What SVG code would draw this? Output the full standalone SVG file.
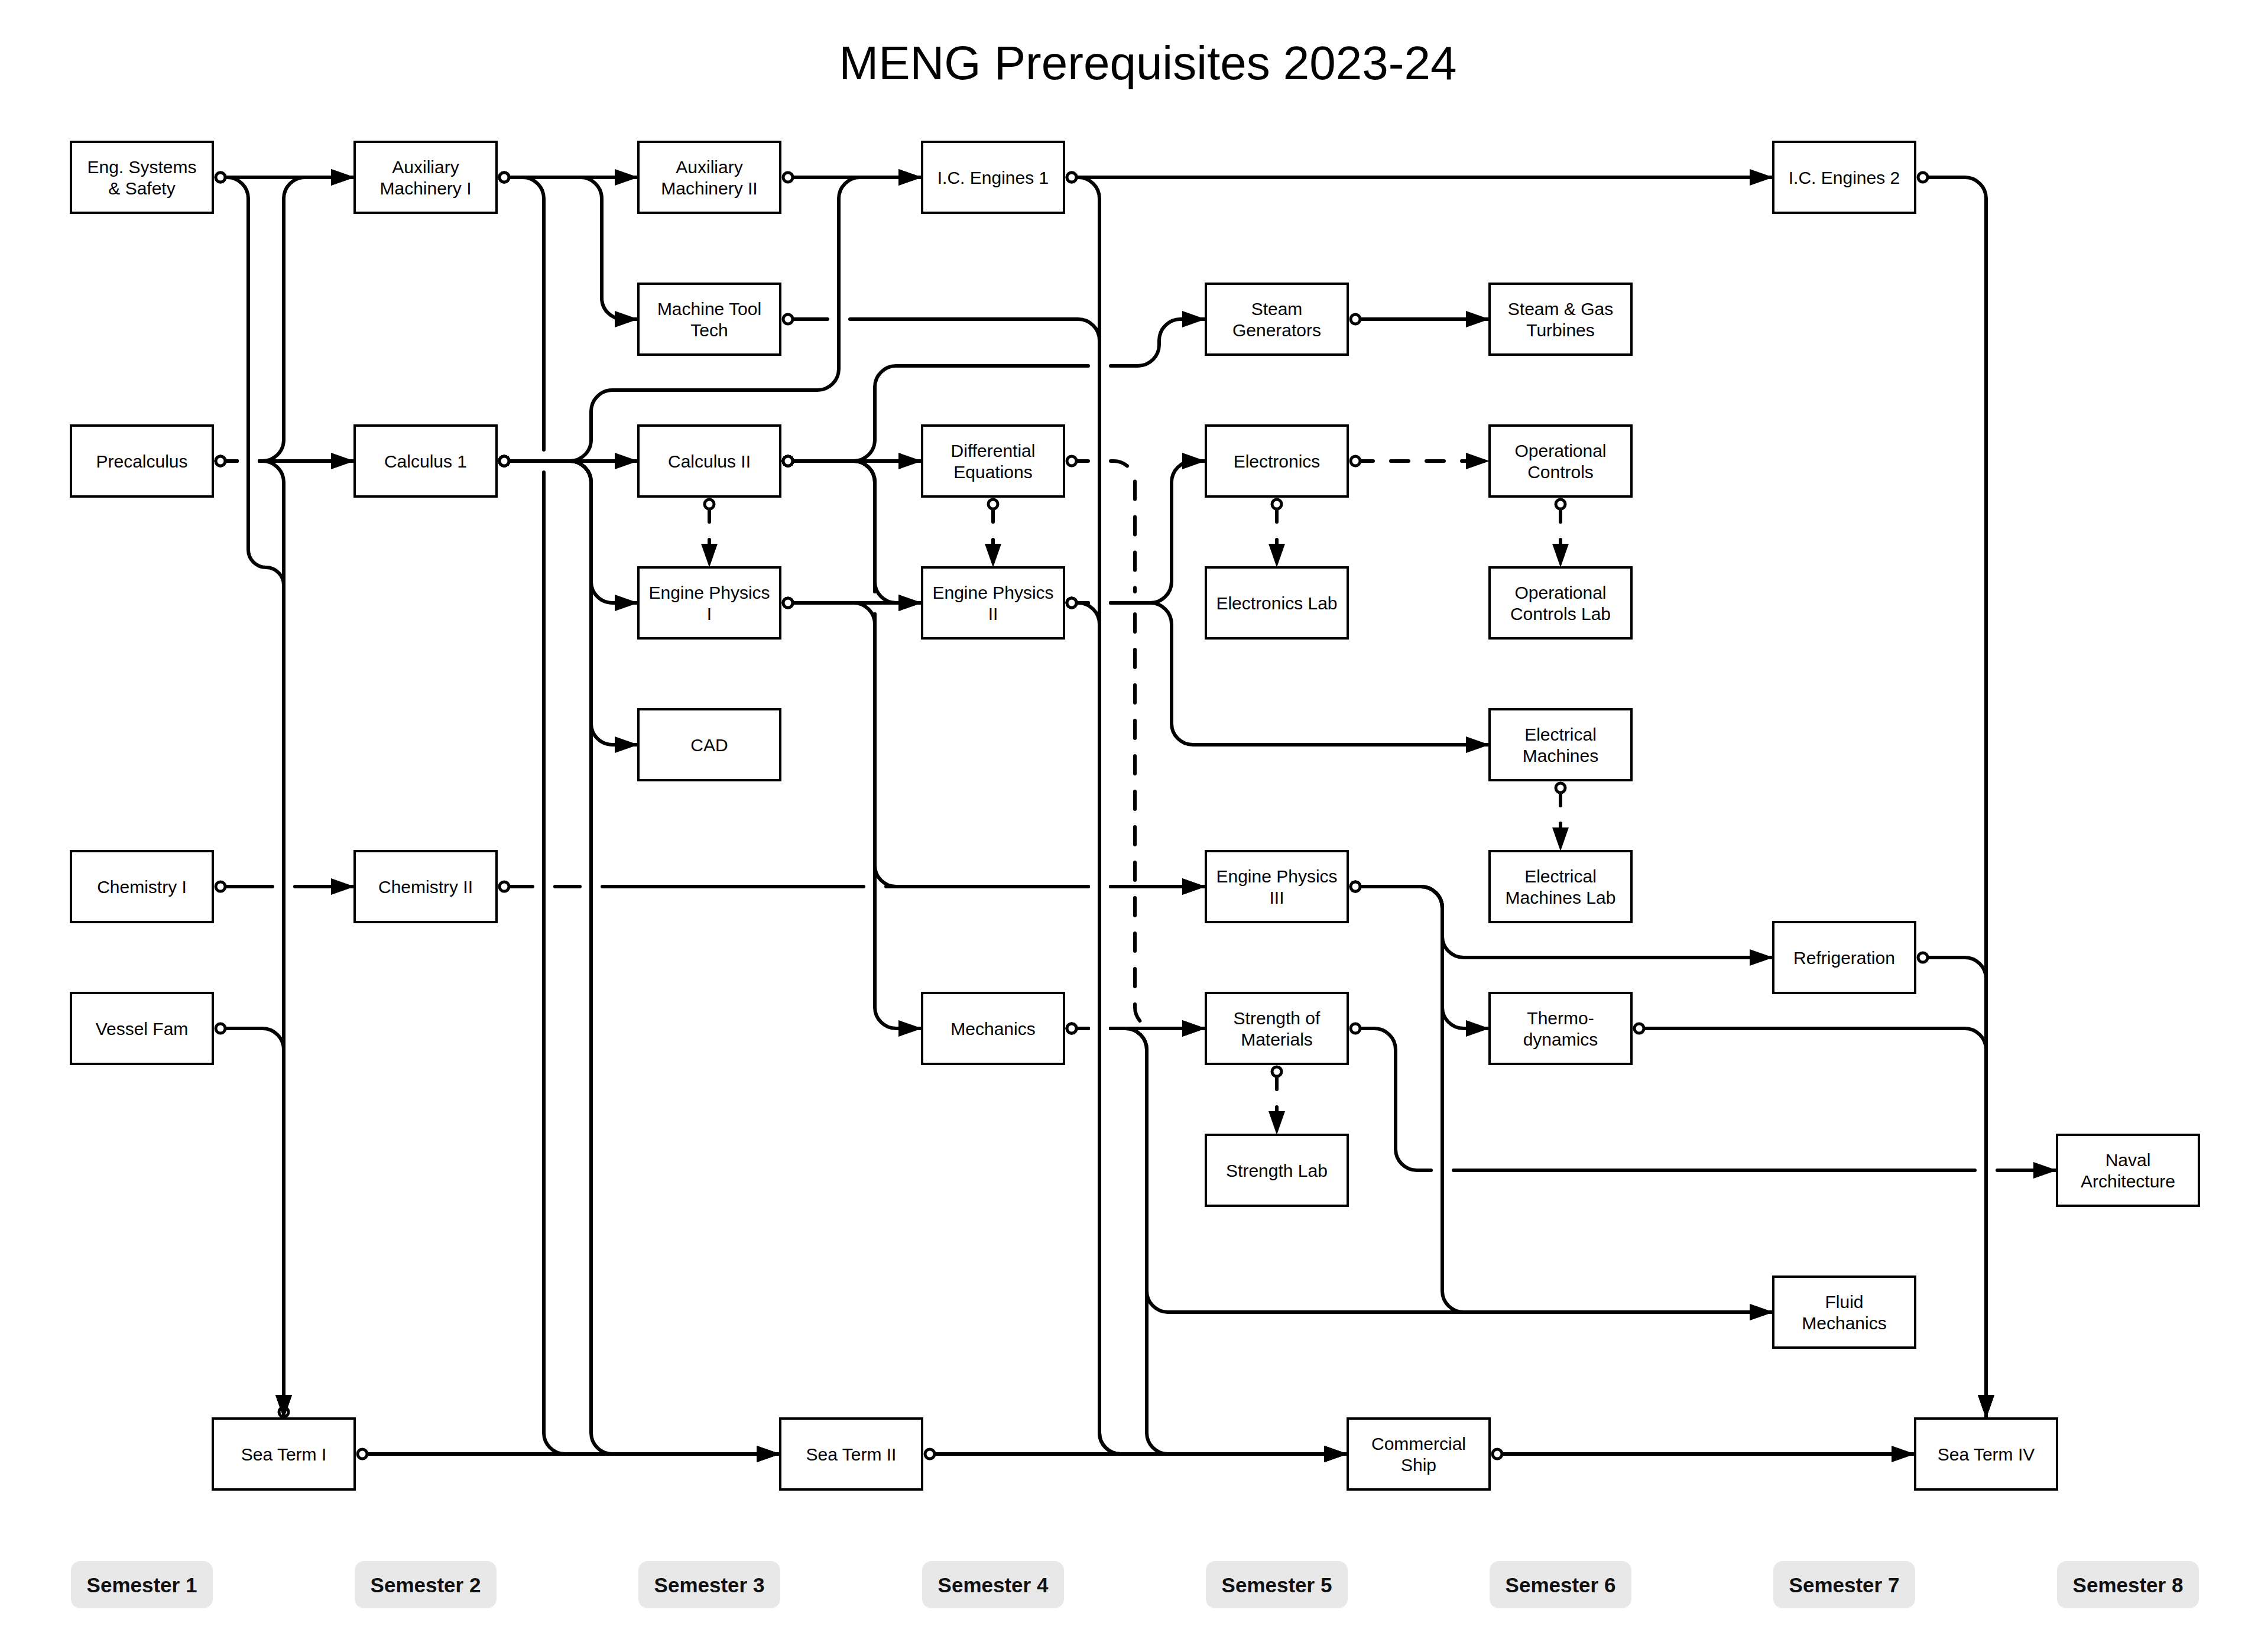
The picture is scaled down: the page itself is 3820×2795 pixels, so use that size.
<svg xmlns="http://www.w3.org/2000/svg" width="3820" height="2795" viewBox="0 0 3820 2795">
<style>
.box{fill:#fff;stroke:#000;stroke-width:4}
.lbl{font-family:"Liberation Sans",Arial,Helvetica,sans-serif;font-size:30px;text-anchor:middle;fill:#000}
.e{fill:none;stroke:#000;stroke-width:6;stroke-linecap:round;stroke-linejoin:round}
.s{marker-start:url(#circ)}
.a{marker-end:url(#arr)}
.d{stroke-dasharray:30 30}
.sem{fill:#e8e8e8}
.semt{font-family:"Liberation Sans",Arial,Helvetica,sans-serif;font-size:35px;font-weight:bold;text-anchor:middle;fill:#111}
.title{font-family:"Liberation Sans",Arial,Helvetica,sans-serif;font-size:80px;text-anchor:middle;fill:#000}
</style>
<defs>
<marker id="arr" markerUnits="userSpaceOnUse" markerWidth="40" markerHeight="28" refX="40" refY="14" viewBox="0 0 40 28" orient="auto"><path d="M0,0 L40,14 L0,28 z" fill="#000"/></marker>
<marker id="circ" markerUnits="userSpaceOnUse" markerWidth="30" markerHeight="30" refX="15" refY="15" viewBox="0 0 30 30" overflow="visible"><circle cx="15" cy="15" r="8" fill="#fff" stroke="#000" stroke-width="5"/></marker>
</defs>
<rect x="0" y="0" width="3820" height="2795" fill="#fff"/>
<text class="title" x="1942" y="134">MENG Prerequisites 2023-24</text>

<g id="connectors">
<circle cx="480" cy="2389" r="8" fill="#fff" stroke="#000" stroke-width="5"/>
<!-- Semester 1 -->
<path class="e s a" d="M373,300 H600"/>
<path class="e s a" d="M373,300 H384 A36,36 0 0 1 420,336 V930 A30,30 0 0 0 450,960 A30,30 0 0 1 480,990 V2400"/>
<path class="e s a" d="M373,780 H401 M439,780 H444 A36,36 0 0 0 480,744 V336 A36,36 0 0 1 516,300 H600"/>
<path class="e s a" d="M373,780 H401 M439,780 H600"/>
<path class="e s a" d="M373,780 H401 M439,780 H444 A36,36 0 0 1 480,816 V2400"/>
<path class="e s a" d="M373,1740 H444 A36,36 0 0 1 480,1776 V2400"/>
<path class="e s a" d="M373,1500 H461 M499,1500 H600"/>
<!-- Semester 2 -->
<path class="e s a" d="M853,300 H1080"/>
<path class="e s a" d="M853,300 H884 A36,36 0 0 1 920,336 V761 M920,799 V2424 A36,36 0 0 0 956,2460 H1320"/>
<path class="e s a" d="M853,300 H982 A36,36 0 0 1 1018,336 V504 A36,36 0 0 0 1054,540 H1080"/>
<path class="e s a" d="M853,780 H1080"/>
<path class="e s a" d="M853,780 H964 A36,36 0 0 0 1000,744 V696 A36,36 0 0 1 1036,660 H1383 A36,36 0 0 0 1419,624 V336 A36,36 0 0 1 1455,300 H1560"/>
<path class="e s a" d="M853,780 H964 A36,36 0 0 1 1000,816 V984 A36,36 0 0 0 1036,1020 H1080"/>
<path class="e s a" d="M853,780 H964 A36,36 0 0 1 1000,816 V1224 A36,36 0 0 0 1036,1260 H1080"/>
<path class="e s a" d="M853,780 H964 A36,36 0 0 1 1000,816 V2424 A36,36 0 0 0 1036,2460 H1320"/>
<path class="e s a" d="M853,1500 H901 M939,1500 H981 M1019,1500 H1461 M1499,1500 H1841 M1879,1500 H2040"/>
<path class="e s a" d="M613,2460 H1320"/>
<!-- Semester 3 -->
<path class="e s a" d="M1333,300 H1560"/>
<path class="e s a" d="M1333,540 H1400 M1438,540 H1824 A36,36 0 0 1 1860,576 V2424 A36,36 0 0 0 1896,2460 H2280"/>
<path class="e s a" d="M1333,780 H1560"/>
<path class="e s a" d="M1333,780 H1444 A36,36 0 0 0 1480,744 V655 A36,36 0 0 1 1516,619 H1841 M1879,619 H1925 A36,36 0 0 0 1961,583 V576 A36,36 0 0 1 1997,540 H2040"/>
<path class="e s a" d="M1333,780 H1444 A36,36 0 0 1 1480,816 V984 A36,36 0 0 0 1516,1020 H1560"/>
<path class="e s a" d="M1333,780 H1444 A36,36 0 0 1 1480,816 V1001 M1480,1039 V1704 A36,36 0 0 0 1516,1740 H1560"/>
<path class="e s a" d="M1333,780 H1444 A36,36 0 0 1 1480,816 V1001 M1480,1039 V1464 A36,36 0 0 0 1516,1500 H1841 M1879,1500 H2040"/>
<path class="e s a" d="M1333,1020 H1560"/>
<path class="e s" d="M1333,1020 H1444 A36,36 0 0 1 1480,1056 V1070"/>
<path class="e s a d" d="M1200,853 V960"/>
<path class="e s a" d="M1573,2460 H2280"/>
<!-- Semester 4 -->
<path class="e s a" d="M1813,300 H3000"/>
<path class="e s a" d="M1813,300 H1824 A36,36 0 0 1 1860,336 V2424 A36,36 0 0 0 1896,2460 H2280"/>
<path class="e s a d" d="M1813,780 H1841 M1879,780 H1884 A36,36 0 0 1 1920,816 V1001 M1920,1039 V1704 A36,36 0 0 0 1956,1740 H2040"/>
<path class="e s a d" d="M1680,853 V960"/>
<path class="e s" d="M1813,1020 H1824 A36,36 0 0 1 1860,1056 V1080"/>
<path class="e s a" d="M1813,1020 H1841 M1879,1020 H1946 A36,36 0 0 0 1982,984 V816 A36,36 0 0 1 2018,780 H2040"/>
<path class="e s a" d="M1813,1020 H1841 M1879,1020 H1946 A36,36 0 0 1 1982,1056 V1224 A36,36 0 0 0 2018,1260 H2520"/>
<path class="e s a" d="M1813,1740 H1841 M1879,1740 H2040"/>
<path class="e s a" d="M1813,1740 H1841 M1879,1740 H1904 A36,36 0 0 1 1940,1776 V2424 A36,36 0 0 0 1976,2460 H2280"/>
<path class="e s a" d="M1813,1740 H1841 M1879,1740 H1904 A36,36 0 0 1 1940,1776 V2184 A36,36 0 0 0 1976,2220 H3000"/>
<!-- Semester 5 -->
<path class="e s a" d="M2293,540 H2520"/>
<path class="e s a d" d="M2293,780 H2520"/>
<path class="e s a d" d="M2160,853 V960"/>
<path class="e s a" d="M2293,1500 H2404 A36,36 0 0 1 2440,1536 V1584 A36,36 0 0 0 2476,1620 H3000"/>
<path class="e s a" d="M2293,1500 H2404 A36,36 0 0 1 2440,1536 V1704 A36,36 0 0 0 2476,1740 H2520"/>
<path class="e s a" d="M2293,1500 H2404 A36,36 0 0 1 2440,1536 V2184 A36,36 0 0 0 2476,2220 H3000"/>
<path class="e s a" d="M2293,1740 H2325 A36,36 0 0 1 2361,1776 V1944 A36,36 0 0 0 2397,1980 H2421 M2459,1980 H3341 M3379,1980 H3480"/>
<path class="e s a d" d="M2160,1813 V1920"/>
<path class="e s a" d="M2533,2460 H3240"/>
<!-- Semester 6 -->
<path class="e s a d" d="M2640,853 V960"/>
<path class="e s a d" d="M2640,1333 V1440"/>
<path class="e s a" d="M2773,1740 H3324 A36,36 0 0 1 3360,1776 V2400"/>
<!-- Semester 7 -->
<path class="e s a" d="M3253,300 H3324 A36,36 0 0 1 3360,336 V2400"/>
<path class="e s a" d="M3253,1620 H3324 A36,36 0 0 1 3360,1656 V2400"/>
</g>

<g id="eng"><rect class="box" x="120" y="240" width="240" height="120"/><text class="lbl" x="240" y="292.5">Eng. Systems</text><text class="lbl" x="240" y="328.5">&amp; Safety</text></g>
<g id="precalc"><rect class="box" x="120" y="720" width="240" height="120"/><text class="lbl" x="240" y="790.5">Precalculus</text></g>
<g id="chem1"><rect class="box" x="120" y="1440" width="240" height="120"/><text class="lbl" x="240" y="1510.5">Chemistry I</text></g>
<g id="vessel"><rect class="box" x="120" y="1680" width="240" height="120"/><text class="lbl" x="240" y="1750.5">Vessel Fam</text></g>
<g id="aux1"><rect class="box" x="600" y="240" width="240" height="120"/><text class="lbl" x="720" y="292.5">Auxiliary</text><text class="lbl" x="720" y="328.5">Machinery I</text></g>
<g id="calc1"><rect class="box" x="600" y="720" width="240" height="120"/><text class="lbl" x="720" y="790.5">Calculus 1</text></g>
<g id="chem2"><rect class="box" x="600" y="1440" width="240" height="120"/><text class="lbl" x="720" y="1510.5">Chemistry II</text></g>
<g id="seaterm1"><rect class="box" x="360" y="2400" width="240" height="120"/><text class="lbl" x="480" y="2470.5">Sea Term I</text></g>
<g id="aux2"><rect class="box" x="1080" y="240" width="240" height="120"/><text class="lbl" x="1200" y="292.5">Auxiliary</text><text class="lbl" x="1200" y="328.5">Machinery II</text></g>
<g id="mtt"><rect class="box" x="1080" y="480" width="240" height="120"/><text class="lbl" x="1200" y="532.5">Machine Tool</text><text class="lbl" x="1200" y="568.5">Tech</text></g>
<g id="calc2"><rect class="box" x="1080" y="720" width="240" height="120"/><text class="lbl" x="1200" y="790.5">Calculus II</text></g>
<g id="ep1"><rect class="box" x="1080" y="960" width="240" height="120"/><text class="lbl" x="1200" y="1012.5">Engine Physics</text><text class="lbl" x="1200" y="1048.5">I</text></g>
<g id="cad"><rect class="box" x="1080" y="1200" width="240" height="120"/><text class="lbl" x="1200" y="1270.5">CAD</text></g>
<g id="seaterm2"><rect class="box" x="1320" y="2400" width="240" height="120"/><text class="lbl" x="1440" y="2470.5">Sea Term II</text></g>
<g id="ice1"><rect class="box" x="1560" y="240" width="240" height="120"/><text class="lbl" x="1680" y="310.5">I.C. Engines 1</text></g>
<g id="diffeq"><rect class="box" x="1560" y="720" width="240" height="120"/><text class="lbl" x="1680" y="772.5">Differential</text><text class="lbl" x="1680" y="808.5">Equations</text></g>
<g id="ep2"><rect class="box" x="1560" y="960" width="240" height="120"/><text class="lbl" x="1680" y="1012.5">Engine Physics</text><text class="lbl" x="1680" y="1048.5">II</text></g>
<g id="mech"><rect class="box" x="1560" y="1680" width="240" height="120"/><text class="lbl" x="1680" y="1750.5">Mechanics</text></g>
<g id="steamgen"><rect class="box" x="2040" y="480" width="240" height="120"/><text class="lbl" x="2160" y="532.5">Steam</text><text class="lbl" x="2160" y="568.5">Generators</text></g>
<g id="electronics"><rect class="box" x="2040" y="720" width="240" height="120"/><text class="lbl" x="2160" y="790.5">Electronics</text></g>
<g id="elab"><rect class="box" x="2040" y="960" width="240" height="120"/><text class="lbl" x="2160" y="1030.5">Electronics Lab</text></g>
<g id="ep3"><rect class="box" x="2040" y="1440" width="240" height="120"/><text class="lbl" x="2160" y="1492.5">Engine Physics</text><text class="lbl" x="2160" y="1528.5">III</text></g>
<g id="som"><rect class="box" x="2040" y="1680" width="240" height="120"/><text class="lbl" x="2160" y="1732.5">Strength of</text><text class="lbl" x="2160" y="1768.5">Materials</text></g>
<g id="slab"><rect class="box" x="2040" y="1920" width="240" height="120"/><text class="lbl" x="2160" y="1990.5">Strength Lab</text></g>
<g id="comm"><rect class="box" x="2280" y="2400" width="240" height="120"/><text class="lbl" x="2400" y="2452.5">Commercial</text><text class="lbl" x="2400" y="2488.5">Ship</text></g>
<g id="turbines"><rect class="box" x="2520" y="480" width="240" height="120"/><text class="lbl" x="2640" y="532.5">Steam &amp; Gas</text><text class="lbl" x="2640" y="568.5">Turbines</text></g>
<g id="opcon"><rect class="box" x="2520" y="720" width="240" height="120"/><text class="lbl" x="2640" y="772.5">Operational</text><text class="lbl" x="2640" y="808.5">Controls</text></g>
<g id="oclab"><rect class="box" x="2520" y="960" width="240" height="120"/><text class="lbl" x="2640" y="1012.5">Operational</text><text class="lbl" x="2640" y="1048.5">Controls Lab</text></g>
<g id="elecmach"><rect class="box" x="2520" y="1200" width="240" height="120"/><text class="lbl" x="2640" y="1252.5">Electrical</text><text class="lbl" x="2640" y="1288.5">Machines</text></g>
<g id="emlab"><rect class="box" x="2520" y="1440" width="240" height="120"/><text class="lbl" x="2640" y="1492.5">Electrical</text><text class="lbl" x="2640" y="1528.5">Machines Lab</text></g>
<g id="thermo"><rect class="box" x="2520" y="1680" width="240" height="120"/><text class="lbl" x="2640" y="1732.5">Thermo-</text><text class="lbl" x="2640" y="1768.5">dynamics</text></g>
<g id="ice2"><rect class="box" x="3000" y="240" width="240" height="120"/><text class="lbl" x="3120" y="310.5">I.C. Engines 2</text></g>
<g id="refrig"><rect class="box" x="3000" y="1560" width="240" height="120"/><text class="lbl" x="3120" y="1630.5">Refrigeration</text></g>
<g id="fluid"><rect class="box" x="3000" y="2160" width="240" height="120"/><text class="lbl" x="3120" y="2212.5">Fluid</text><text class="lbl" x="3120" y="2248.5">Mechanics</text></g>
<g id="seaterm4"><rect class="box" x="3240" y="2400" width="240" height="120"/><text class="lbl" x="3360" y="2470.5">Sea Term IV</text></g>
<g id="naval"><rect class="box" x="3480" y="1920" width="240" height="120"/><text class="lbl" x="3600" y="1972.5">Naval</text><text class="lbl" x="3600" y="2008.5">Architecture</text></g>

<g id="semesters">
<rect class="sem" x="120" y="2641" width="240" height="80" rx="16"/><text class="semt" x="240" y="2694">Semester 1</text>
<rect class="sem" x="600" y="2641" width="240" height="80" rx="16"/><text class="semt" x="720" y="2694">Semester 2</text>
<rect class="sem" x="1080" y="2641" width="240" height="80" rx="16"/><text class="semt" x="1200" y="2694">Semester 3</text>
<rect class="sem" x="1560" y="2641" width="240" height="80" rx="16"/><text class="semt" x="1680" y="2694">Semester 4</text>
<rect class="sem" x="2040" y="2641" width="240" height="80" rx="16"/><text class="semt" x="2160" y="2694">Semester 5</text>
<rect class="sem" x="2520" y="2641" width="240" height="80" rx="16"/><text class="semt" x="2640" y="2694">Semester 6</text>
<rect class="sem" x="3000" y="2641" width="240" height="80" rx="16"/><text class="semt" x="3120" y="2694">Semester 7</text>
<rect class="sem" x="3480" y="2641" width="240" height="80" rx="16"/><text class="semt" x="3600" y="2694">Semester 8</text>
</g>
</svg>
